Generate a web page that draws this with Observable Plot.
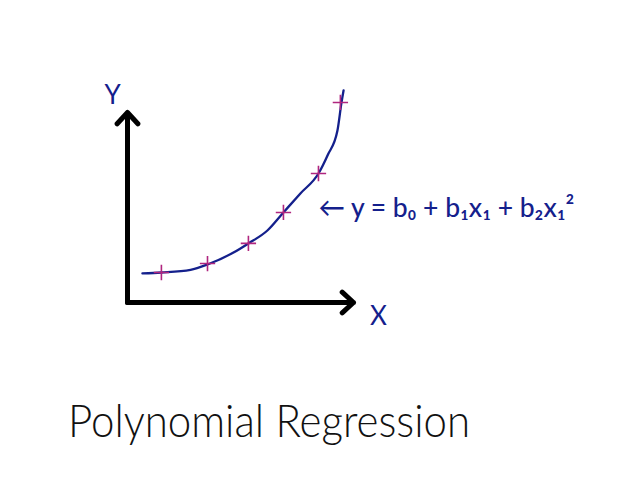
<!DOCTYPE html>
<html><head><meta charset="utf-8">
<script src="https://cdn.jsdelivr.net/npm/d3@7"></script>
<script src="https://cdn.jsdelivr.net/npm/@observablehq/plot@0.6"></script>
<style>
body{margin:0;background:#fff;}
#wrap{position:relative;width:640px;height:479px;overflow:hidden;}
#title{position:absolute;left:68px;top:397px;font-family:Lato,"Open Sans",sans-serif;font-weight:300;font-size:46px;color:#111;white-space:nowrap;transform-origin:0 0;line-height:1;}
</style>
</head><body>
<div id="wrap"><div id="chart"></div><div id="title"></div></div>
<script>
// hand-drawn fitted curve (data units)
const curveX = [0.66, 1.50, 2.79, 3.54, 4.69, 5.35, 6.19, 6.90, 7.65, 8.45, 8.85, 9.29, 9.47, 9.56];
const curveY = [1.53, 1.58, 1.72, 2.00, 2.63, 3.11, 3.79, 4.74, 5.74, 6.79, 7.74, 9.05, 10.53, 11.16];
// observed points (crosses)
const pointX = [1.50, 3.54, 5.35, 6.90, 8.45, 9.42];
const pointY = [1.58, 2.05, 3.11, 4.74, 6.79, 10.53];
const axisNames = ["X", "Y"];
const equation = "← y = b₀ + b₁x₁ + b₂x₁²";
const titleText = "Polynomial Regression";

const curve = curveX.map((x, i) => ({x, y: curveY[i]}));
const points = pointX.map((x, i) => ({x, y: pointY[i]}));
const axes = [{x1: 0, y1: 0, x2: 0, y2: 10}, {x1: 0, y1: 0, x2: 10, y2: 0}];
const labels = [{x: 11.1, y: -0.74, t: axisNames[0]}, {x: -0.66, y: 10.89, t: axisNames[1]}];

const blue = "#14208c";
const plot = Plot.plot({
  width: 640, height: 390,
  marginLeft: 127, marginRight: 287, marginTop: 112, marginBottom: 88,
  x: {domain: [0, 10], axis: null},
  y: {domain: [0, 10], axis: null},
  style: {background: "#fff", overflow: "visible"},
  marks: [
    Plot.arrow(axes, {x1: "x1", y1: "y1", x2: "x2", y2: "y2", stroke: "#000", strokeWidth: 5, headLength: 4.6, headAngle: 85, strokeLinecap: "round", strokeLinejoin: "round"}),
    Plot.line(curve, {x: "x", y: "y", stroke: blue, strokeWidth: 2.3, curve: "monotone-x"}),
    Plot.dot(points, {x: "x", y: "y", symbol: "plus", r: 5, stroke: "#b0267f", strokeWidth: 1.6}),
    Plot.text(labels, {x: "x", y: "y", text: "t", fill: blue, fontSize: 26, fontFamily: "Lato, sans-serif", fontWeight: 400}),
    Plot.text([equation], {x: 8.45, y: 4.95, text: d => d, textAnchor: "start", fill: blue, fontSize: 27, fontFamily: "Lato, sans-serif", fontWeight: 500})
  ]
});
document.getElementById("chart").appendChild(plot);
// fit equation width to the drawn length
d3.select(plot).selectAll("text").filter(function(){ return this.textContent === equation; })
  .attr("textLength", 256).attr("lengthAdjust", "spacingAndGlyphs");
const t = document.getElementById("title");
t.textContent = titleText;
const w = t.getBoundingClientRect().width;
t.style.transform = `scaleX(${402 / w})`;
</script>
</body></html>
